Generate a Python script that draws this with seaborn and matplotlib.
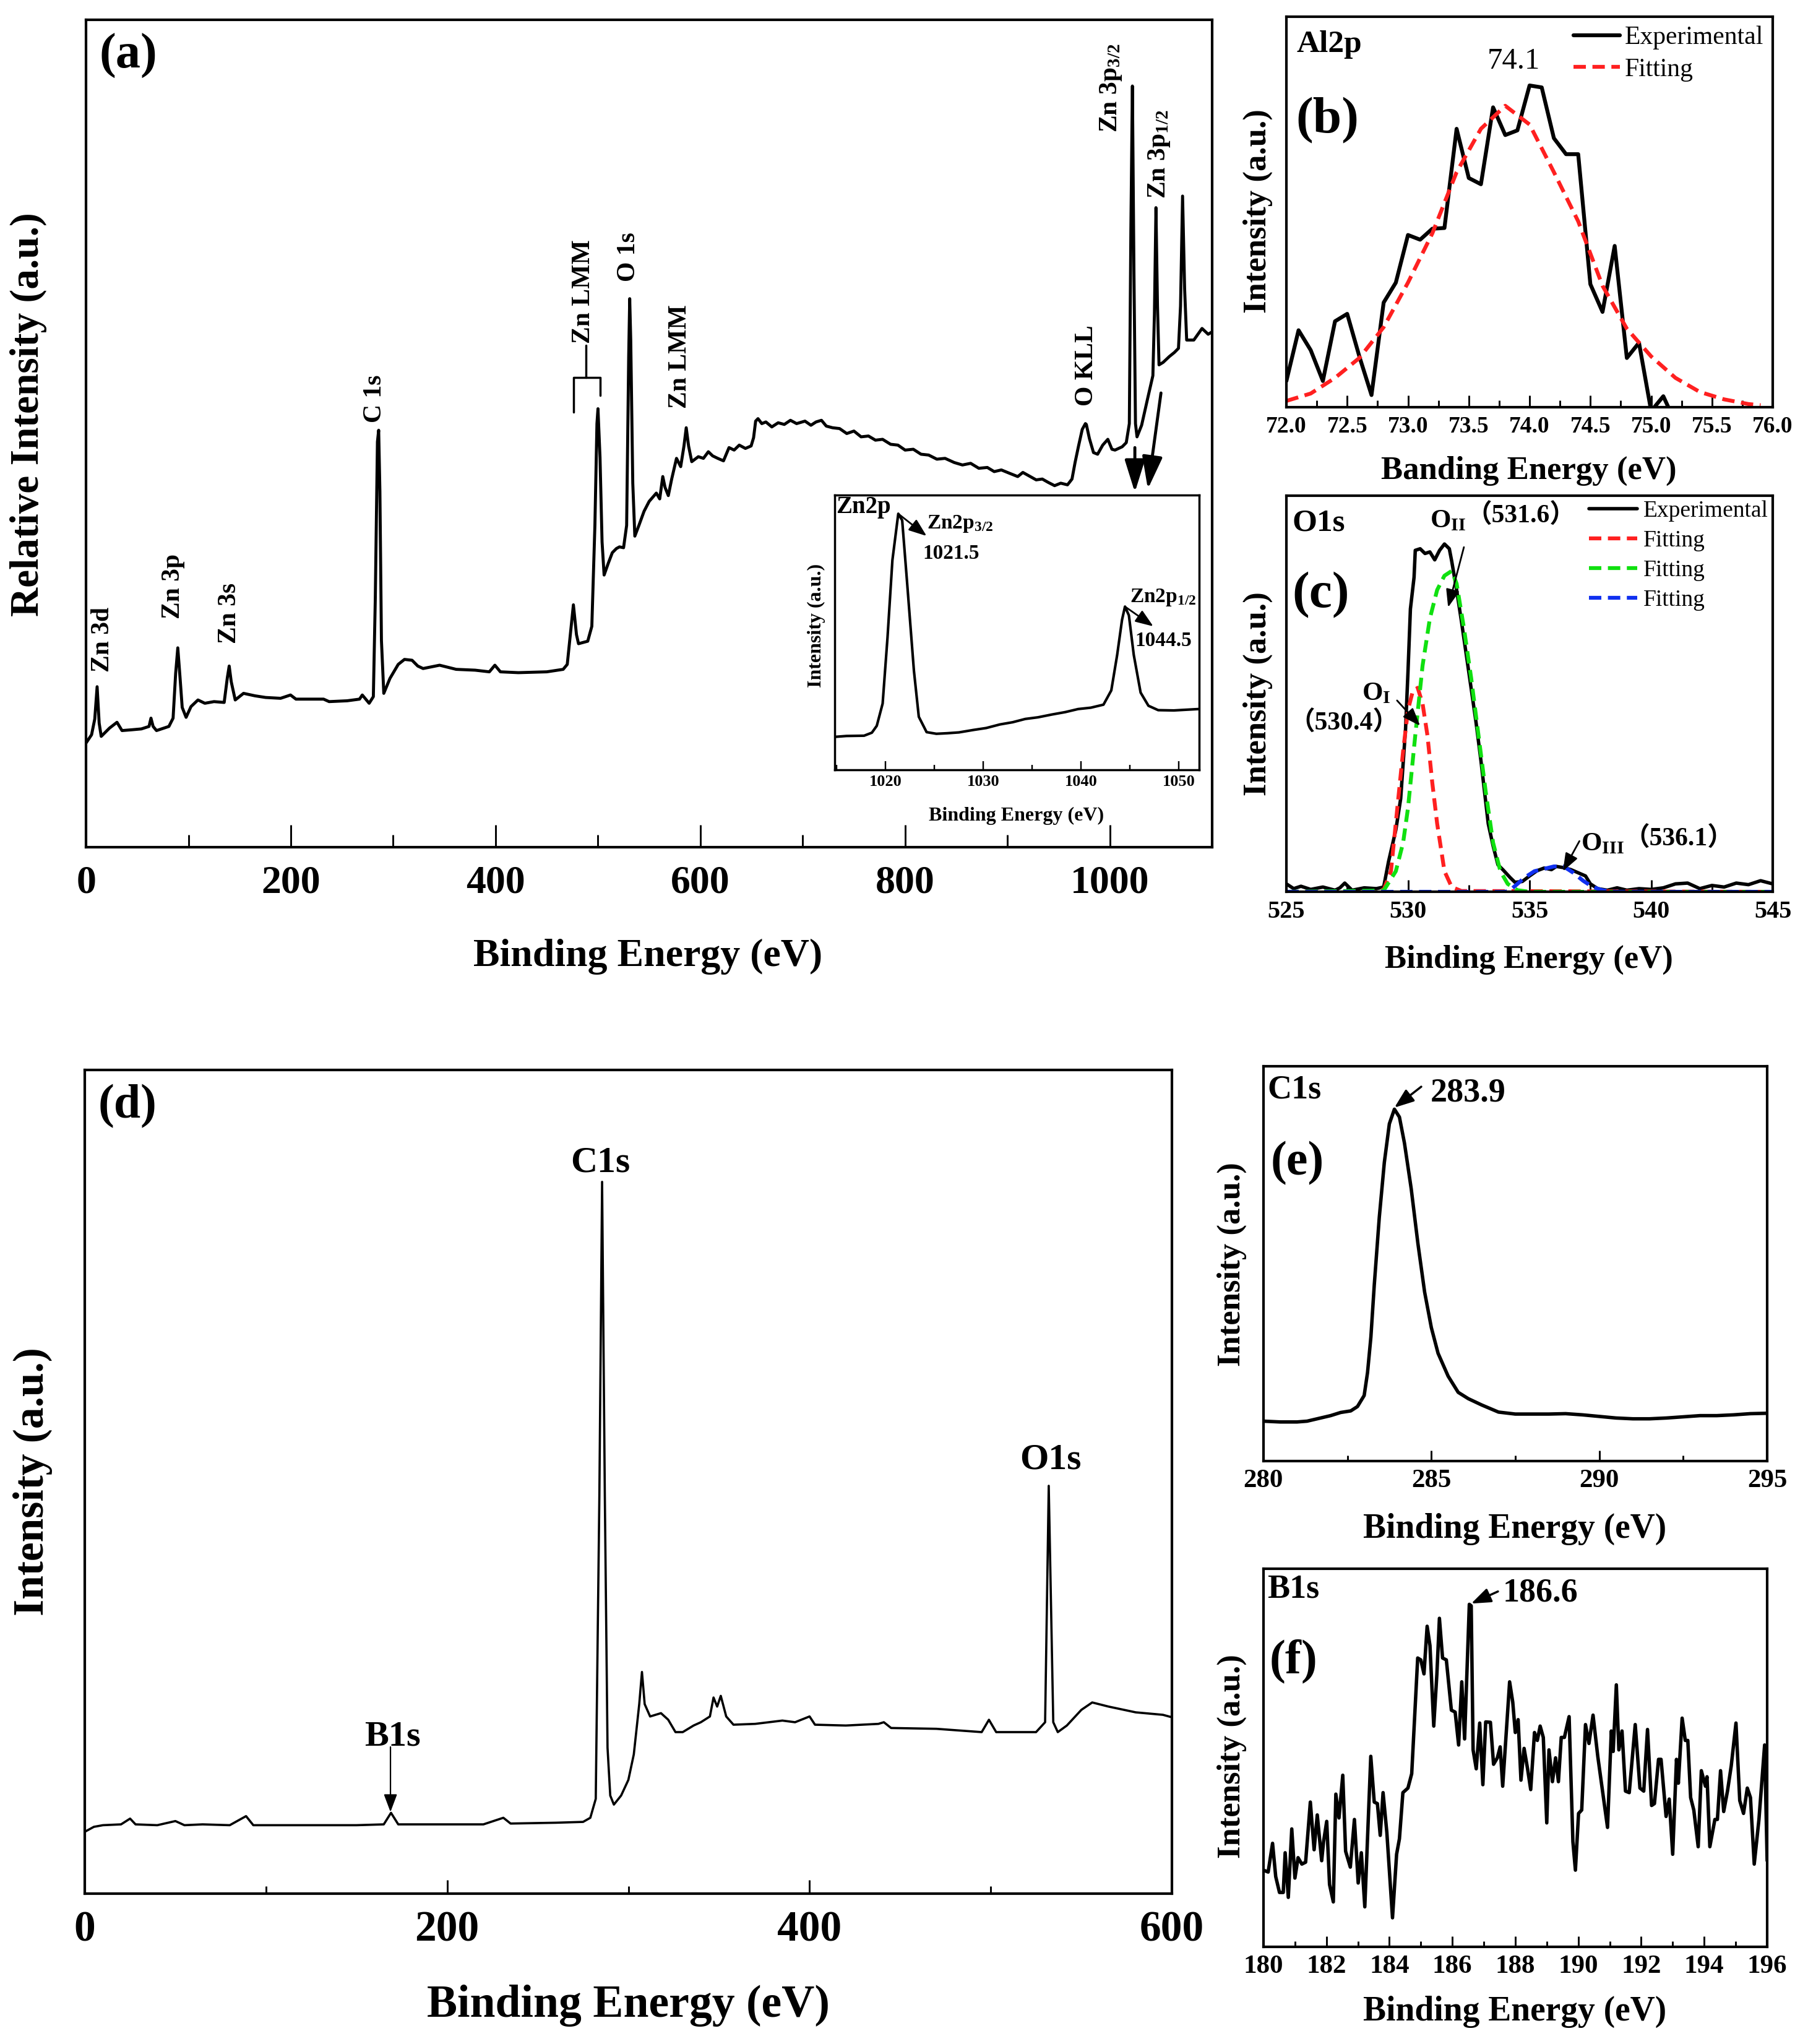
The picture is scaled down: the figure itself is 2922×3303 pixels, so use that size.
import matplotlib
matplotlib.use("Agg")
import matplotlib.pyplot as plt
from matplotlib.ticker import MultipleLocator, FormatStrFormatter
import seaborn as sns

# ---------------- data ----------------
# (a) survey spectrum, energy (eV) / relative intensity (0-100)
survey_ev = [0, 5.4, 8.5, 10.8, 12.8, 14.8, 22.9, 30.2, 35.1, 45, 54, 61.5, 63.4, 65.5, 68.8,
             80.9, 85, 87.5, 89.6, 91.8, 93.9, 97.7, 102.5, 109.3, 116, 125, 134.9, 138, 139.8,
             141.8, 145.7, 153.8, 165, 175.4, 190, 199.7, 205, 220, 232, 237.4, 255, 267.1,
             269.8, 276.5, 280.6, 282.5, 284.6, 285.8, 287, 288.5, 290.8, 296.8, 304.9, 311,
             318.4, 324, 329.2, 345.3, 361.5, 380, 393.9, 399.3, 404.7, 422.2, 450, 466, 470,
             473, 476, 479, 481, 490, 494, 497, 499, 500, 502, 504, 506, 510, 514, 518, 521, 525,
             528, 530, 531, 532, 534, 536, 540, 545, 550, 557, 560.3, 563.3, 565.5, 568.7, 572,
             576.7, 580.8, 584, 586.2, 588.5, 591.6, 598, 603, 607.8, 612, 617, 622.6, 628, 633,
             638, 644, 649.6, 652, 654, 656.3, 660, 664, 669.8, 676, 682, 688, 694, 702.2, 708,
             713, 718.3, 723, 729.1, 736, 743, 750, 757, 764.2, 771, 778, 785.8, 793, 800, 808,
             815.5, 823, 831, 839, 847.9, 856, 864, 872, 880.3, 887, 894, 901.9, 910, 915, 920.8,
             928, 934, 939.7, 946, 952, 958.6, 963, 966, 969.4, 973, 976.1, 977, 980, 984, 988,
             993, 998, 1002, 1005, 1012, 1016, 1019, 1020.5, 1022, 1023.5, 1025, 1026.5, 1031,
             1037, 1042, 1043.5, 1045, 1046.5, 1048, 1052, 1058, 1063, 1067, 1069, 1071, 1073,
             1075, 1082, 1086, 1090, 1096, 1100]
survey_int = [12.6, 13.6, 15.5, 19.4, 15.0, 13.4, 14.4, 15.1, 14.1, 14.2, 14.3, 14.6, 15.6, 14.6,
              14.1, 14.6, 15.6, 21.0, 24.1, 20.5, 16.9, 15.7, 17.0, 17.8, 17.4, 17.6, 17.5, 20.5,
              21.9, 20.0, 17.8, 18.6, 18.3, 18.1, 18.0, 18.4, 17.9, 17.9, 17.9, 17.6, 17.7, 17.9,
              18.4, 17.4, 18.2, 30.0, 49.0, 50.4, 43.0, 25.0, 18.6, 20.4, 22.1, 22.7, 22.6, 21.9,
              21.6, 22.0, 21.5, 21.4, 21.2, 22.0, 21.2, 21.1, 21.2, 21.5, 22.1, 25.7, 29.3, 25.7,
              24.6, 24.9, 26.7, 38.9, 51.2, 53.0, 47.1, 36.9, 32.9, 34.3, 35.6, 36.1, 36.3, 36.2,
              38.9, 59.3, 66.3, 61.3, 44.0, 37.6, 38.9, 40.6, 41.8, 42.8, 42.1, 44.8, 43.5, 42.5,
              44.5, 47.0, 46.0, 48.5, 50.7, 48.5, 46.6, 47.2, 47.0, 47.8, 47.3, 47.0, 46.7, 48.3,
              48.0, 48.6, 48.2, 48.5, 49.5, 51.5, 51.8, 51.2, 51.4, 50.8, 51.3, 51.1, 51.6, 51.2,
              51.5, 51.0, 51.4, 51.6, 50.9, 50.7, 50.6, 50.0, 50.3, 49.6, 49.7, 49.2, 49.3, 48.7,
              48.6, 48.0, 48.1, 47.5, 47.4, 46.9, 47.0, 46.5, 46.2, 46.4, 45.8, 45.9, 45.4, 45.6,
              45.2, 44.8, 45.3, 44.9, 44.4, 44.5, 44.1, 43.7, 44.0, 43.8, 44.5, 46.5, 48.5, 50.5,
              51.2, 51.1, 49.4, 47.7, 47.5, 48.6, 49.3, 48.1, 48.0, 48.4, 48.9, 51.2, 74.6, 92.0,
              69.5, 51.2, 49.6, 51.0, 54.3, 57.0, 64.4, 77.3, 65.4, 58.3, 58.6, 59.3, 59.8, 60.3,
              65.4, 78.7, 67.5, 61.3, 61.3, 62.0, 62.7, 62.0, 62.3]
survey_peaks = ["Zn 3d", "Zn 3p", "Zn 3s", "C 1s", "Zn LMM", "O 1s", "Zn LMM", "O KLL",
                "Zn 3p$_{3/2}$", "Zn 3p$_{1/2}$"]
survey_peak_ev = [16, 85, 140, 282, 486, 530, 580, 977, 1001, 1048]
survey_peak_int = [21.2, 27.6, 24.6, 51.3, 60.9, 68.4, 53.0, 53.3, 86.4, 78.4]

# inset: Zn 2p
zn2p_ev = [1014.9, 1016, 1017.8, 1018.6, 1019.1, 1019.7, 1020.2, 1020.7, 1021.3, 1021.7, 1022.2,
           1022.9, 1023.4, 1024.2, 1025.2, 1026.3, 1027.5, 1029, 1030.3, 1031.7, 1033, 1034.3,
           1035.6, 1037, 1038.4, 1039.7, 1041, 1042.3, 1043.1, 1043.7, 1044.2, 1044.5, 1044.9,
           1045.4, 1046.1, 1046.9, 1047.9, 1049.5, 1051, 1052]
zn2p_int = [12.0, 12.3, 12.4, 13.5, 16.0, 24.1, 48.2, 76.3, 93.2, 90.8, 68.3, 36.1, 19.3, 13.7,
            13.1, 13.3, 13.6, 14.5, 15.2, 16.5, 17.3, 18.5, 19.1, 20.1, 21.0, 22.1, 22.6, 23.7,
            28.9, 41.8, 54.6, 59.4, 56.2, 41.8, 28.1, 23.3, 21.7, 21.6, 21.9, 22.1]

# (b) Al 2p
al_ev = [72.0, 72.1, 72.2, 72.3, 72.4, 72.5, 72.6, 72.7, 72.8, 72.9, 73.0, 73.1, 73.2, 73.3,
         73.4, 73.5, 73.6, 73.7, 73.8, 73.9, 74.0, 74.1, 74.2, 74.3, 74.4, 74.5, 74.6, 74.7,
         74.8, 74.9, 75.0, 75.1, 75.2, 75.3]
al_int = [6.7, 19.7, 14.6, 6.7, 22.0, 23.9, 13.0, 3.1, 26.8, 31.9, 44.1, 42.9, 45.7, 45.9, 71.3,
          58.7, 57.1, 76.8, 69.7, 70.9, 82.4, 81.9, 68.9, 64.8, 64.8, 31.5, 24.4, 41.3, 12.6,
          16.5, -1.0, 2.8, -4.0, -6.0]
al_fit_ev = [72.0, 72.2, 72.4, 72.6, 72.8, 73.0, 73.2, 73.4, 73.6, 73.8, 74.0, 74.2, 74.4, 74.6,
             74.8, 75.0, 75.2, 75.4, 75.6, 75.8, 75.9]
al_fit_int = [1.6, 3.5, 7.5, 12.6, 20.5, 31.9, 44.5, 60.2, 71.3, 77.2, 72.4, 60.2, 47.6, 31.1,
              20.1, 13.0, 7.5, 3.9, 2.0, 0.8, 0.5]

# (c) O 1s
o1s_ev = [525.0, 525.3, 525.6, 526.0, 526.5, 527.0, 527.2, 527.4, 527.7, 528.2, 528.7, 529.0,
          529.2, 529.5, 529.7, 529.9, 530.0, 530.1, 530.25, 530.3, 530.5, 530.7, 530.9, 531.1,
          531.3, 531.5, 531.7, 531.8, 532.0, 532.2, 532.5, 532.8, 533.0, 533.3, 533.5, 533.7,
          533.9, 534.2, 534.4, 534.7, 535.0, 535.3, 535.6, 535.9, 536.1, 536.4, 536.7, 537.0,
          537.3, 537.5, 537.8, 538.2, 538.6, 539.0, 539.5, 540.0, 540.5, 541.0, 541.5, 542.0,
          542.5, 543.0, 543.5, 544.0, 544.5, 545.0]
o1s_int = [2.0, 0.8, 1.4, 0.6, 1.2, 0.4, 1.0, 2.2, 0.4, 1.0, 0.8, 1.2, 7.6, 15.6, 23.5, 41.1,
           55.5, 71.4, 79.4, 86.2, 86.6, 85.4, 85.8, 83.8, 86.2, 87.8, 86.6, 83.4, 76.2, 68.2,
           55.5, 42.7, 33.1, 17.2, 11.6, 6.8, 5.6, 3.6, 2.4, 2.6, 4.0, 5.3, 6.0, 5.6, 6.4, 6.1,
           5.6, 4.8, 4.0, 2.0, 0.8, 0.4, 1.0, 0.4, 0.8, 0.6, 1.0, 2.0, 2.2, 0.8, 1.6, 1.2, 2.2,
           1.8, 2.8, 2.0]
oI_ev = [525.0, 528.5, 529.0, 529.3, 529.6, 529.8, 530.0, 530.2, 530.4, 530.6, 530.8, 531.0,
         531.2, 531.5, 531.8, 532.2, 545.0]
oI_int = [0, 0, 0.5, 5.2, 23.5, 35.5, 45.9, 50.7, 51.5, 47.5, 39.5, 27.5, 17.2, 5.2, 1.2, 0.2, 0]
oII_ev = [525.0, 529.0, 529.5, 529.8, 530.0, 530.3, 530.6, 530.9, 531.2, 531.5, 531.8, 532.0,
          532.3, 532.6, 532.9, 533.2, 533.5, 533.8, 534.1, 534.5, 535.0, 545.0]
oII_int = [0, 0.3, 5.2, 12.4, 21.1, 39.5, 57.1, 69.0, 76.2, 79.8, 81.0, 77.8, 66.6, 53.9, 39.5,
           25.1, 12.4, 5.2, 2.0, 0.4, 0, 0]
oIII_ev = [525.0, 534.0, 534.2, 534.5, 534.8, 535.2, 535.6, 536.0, 536.4, 536.8, 537.2, 537.6,
           538.0, 538.5, 545.0]
oIII_int = [0, 0, 0.4, 2.0, 3.6, 5.2, 5.8, 6.4, 6.4, 4.8, 2.8, 1.2, 0.4, 0, 0]

# (d) survey spectrum
survey2_ev = [0, 5, 10, 20, 25, 28, 40, 50, 55, 65, 80, 89, 93, 120, 150, 165, 169, 173, 190,
              200, 220, 231, 235, 260, 275, 279, 282, 284, 285.5, 287, 288.5, 290, 292, 296, 300,
              303, 306, 307.5, 309, 312, 318, 322, 326, 330, 336, 340, 345, 347, 349, 351, 354,
              358, 370, 385, 392, 400, 403, 420, 438, 441, 445, 470, 495, 499, 503, 525, 530,
              532, 534.5, 537, 542, 550, 556, 565, 580, 595, 600]
survey2_int = [7.5, 8.1, 8.3, 8.4, 9.1, 8.4, 8.3, 8.8, 8.3, 8.4, 8.3, 9.4, 8.3, 8.3, 8.3, 8.4,
               9.8, 8.4, 8.4, 8.4, 8.4, 9.2, 8.5, 8.6, 8.7, 9.2, 11.5, 48.4, 86.4, 48.4, 17.7,
               11.9, 10.8, 11.9, 13.8, 16.9, 23.0, 26.9, 23.0, 21.5, 21.9, 21.1, 19.6, 19.6, 20.4,
               20.8, 21.5, 23.8, 22.7, 24.0, 21.5, 20.5, 20.6, 21.0, 20.8, 21.5, 20.5, 20.4, 20.6,
               20.8, 20.1, 20.0, 19.6, 21.1, 19.6, 19.6, 20.8, 49.5, 20.8, 19.6, 20.4, 22.3, 23.2,
               22.7, 22.0, 21.7, 21.4]

# (e) C 1s
c1s_ev = [280.0, 280.5, 281.0, 281.3, 281.6, 282.0, 282.3, 282.6, 282.8, 283.0, 283.1, 283.2,
          283.3, 283.45, 283.6, 283.75, 283.9, 284.05, 284.2, 284.4, 284.6, 284.8, 285.0, 285.2,
          285.5, 285.8, 286.1, 286.5, 287.0, 287.5, 288.0, 288.5, 289.0, 289.5, 290.0, 290.5,
          291.0, 291.5, 292.0, 292.5, 293.0, 293.5, 294.0, 294.5, 295.0]
c1s_int = [10.1, 9.9, 9.9, 10.1, 10.7, 11.5, 12.3, 12.7, 13.8, 16.6, 22.4, 31.4, 44.5, 61.7, 75.6,
           85.4, 89.1, 87.1, 80.5, 69.0, 55.1, 42.8, 33.8, 27.3, 21.5, 17.4, 15.8, 14.2, 12.4,
           11.9, 11.9, 11.9, 12.0, 11.7, 11.3, 10.9, 10.7, 10.7, 10.9, 11.2, 11.5, 11.5, 11.7,
           12.0, 12.1]

# (f) B 1s
b1s_ev = [180.0, 180.15, 180.29, 180.39, 180.51, 180.63, 180.69, 180.79, 180.9, 181.0, 181.1,
          181.22, 181.34, 181.49, 181.61, 181.71, 181.85, 181.91, 182.01, 182.1, 182.22, 182.3,
          182.4, 182.52, 182.61, 182.76, 182.89, 183.01, 183.11, 183.22, 183.41, 183.52, 183.62,
          183.71, 183.8, 183.92, 184.1, 184.23, 184.32, 184.43, 184.59, 184.71, 184.77, 184.9,
          185.0, 185.1, 185.2, 185.29, 185.41, 185.51, 185.59, 185.69, 185.81, 185.97, 186.09,
          186.2, 186.3, 186.39, 186.54, 186.6, 186.66, 186.76, 186.87, 186.97, 187.06, 187.21,
          187.31, 187.43, 187.52, 187.6, 187.82, 187.92, 188.0, 188.09, 188.18, 188.28, 188.39,
          188.49, 188.61, 188.7, 188.79, 188.89, 189.0, 189.07, 189.18, 189.28, 189.37, 189.46,
          189.56, 189.71, 189.83, 189.91, 190.01, 190.11, 190.23, 190.34, 190.47, 190.62,
          190.93, 191.05, 191.11, 191.21, 191.29, 191.39, 191.5, 191.62, 191.81, 191.96,
          192.08, 192.2, 192.33, 192.42, 192.55, 192.63, 192.79, 192.89, 193.0, 193.12,
          193.18, 193.3, 193.4, 193.48, 193.57, 193.67, 193.81, 193.91, 194.04, 194.09,
          194.18, 194.34, 194.42, 194.52, 194.62, 194.74, 194.86, 195.01, 195.13, 195.25,
          195.37, 195.47, 195.59, 195.74, 195.92, 196.0]
b1s_int = [20.3, 19.8, 27.4, 18.6, 14.4, 14.4, 24.9, 13.1, 31.2, 18.2, 23.6, 21.9, 22.4, 38.3,
           25.7, 34.9, 22.8, 27.8, 33.2, 16.5, 11.9, 40.4, 34.1, 45.4, 25.3, 21.1, 33.7, 16.9,
           24.9, 10.6, 50.4, 38.3, 37.9, 29.5, 40.8, 30.3, 7.7, 24.5, 28.6, 40.8, 42.0, 45.8,
           55.4, 76.4, 75.9, 72.2, 84.8, 79.7, 58.4, 72.2, 86.9, 76.4, 75.9, 62.6, 62.1, 53.4,
           70.1, 55.0, 90.6, 90.2, 52.1, 47.1, 59.2, 42.9, 59.5, 59.4, 48.3, 50.0, 52.9, 42.5,
           70.1, 64.7, 56.7, 60.1, 44.1, 52.5, 47.1, 41.6, 56.7, 54.6, 58.4, 55.4, 32.8, 52.1,
           43.7, 50.0, 43.7, 55.4, 55.4, 60.9, 27.8, 20.3, 35.3, 36.2, 58.8, 53.8, 61.3, 50.4,
           31.6, 57.1, 51.7, 69.3, 52.1, 57.1, 41.2, 40.8, 58.8, 42.0, 41.2, 57.5, 37.4, 37.9,
           49.6, 49.6, 34.5, 39.1, 24.5, 49.6, 43.3, 60.5, 54.6, 54.6, 39.5, 36.2, 26.5, 46.6,
           42.5, 45.0, 26.5, 33.7, 33.7, 46.6, 35.8, 41.2, 47.9, 59.2, 38.7, 35.3, 42.0, 39.5,
           21.9, 33.7, 53.4, 22.8]

# ---------------- style ----------------
sns.set_theme(style="ticks")
plt.rcParams["font.family"] = ["Liberation Serif", "Noto Sans CJK SC"]
plt.rcParams["font.weight"] = "bold"
plt.rcParams["axes.labelweight"] = "bold"
plt.rcParams["mathtext.default"] = "regular"
plt.rcParams["text.color"] = "black"
plt.rcParams["axes.labelcolor"] = "black"
plt.rcParams["xtick.color"] = "black"

CJK = ["Liberation Serif", "Noto Sans CJK SC"]


def frame(ax, xlim, major, minor, tsize, tlen, pad, fmt=None, lw=3):
    ax.set_xlim(*xlim)
    ax.set_ylim(0, 100)
    ax.set_yticks([])
    ax.xaxis.set_major_locator(MultipleLocator(major))
    ax.xaxis.set_minor_locator(MultipleLocator(minor))
    if fmt:
        ax.xaxis.set_major_formatter(FormatStrFormatter(fmt))
    ax.tick_params(axis="x", which="major", direction="in", length=tlen, width=lw * 0.7,
                   labelsize=tsize, pad=pad, top=False)
    ax.tick_params(axis="x", which="minor", direction="in", length=tlen * 0.55,
                   width=lw * 0.7, top=False)
    for s in ax.spines.values():
        s.set_visible(True)
        s.set_linewidth(lw)
        s.set_color("black")


def labels(ax, xl, yl, xsize, ysize, xpos, ypos):
    ax.set_xlabel(xl, fontsize=xsize, fontweight="bold")
    ax.set_ylabel(yl, fontsize=ysize, fontweight="bold")
    ax.xaxis.set_label_coords(*xpos)
    ax.yaxis.set_label_coords(*ypos)
    ax.xaxis.label.set_va("center")
    ax.yaxis.label.set_va("center")


def line(ax, x, y, color="black", lw=3.5, ls="-"):
    sns.lineplot(x=x, y=y, ax=ax, color=color, linewidth=lw, estimator=None, sort=False)
    ln = ax.lines[-1]
    ln.set_linestyle(ls)
    return ln


def arrow(ax, xy, xytext, lw=2, ms=22):
    ax.annotate("", xy=xy, xytext=xytext,
                arrowprops=dict(arrowstyle="-|>,head_length=0.8,head_width=0.3", color="black",
                                lw=lw, mutation_scale=ms, shrinkA=0, shrinkB=0))


fig = plt.figure(figsize=(29.22, 33.03), dpi=100)
fig.patch.set_facecolor("white")
dash = (0, (3.2, 1.7))

# ---------------- (a) ----------------
ax_a = fig.add_axes([0.0476, 0.5855, 0.6229, 0.4048])
line(ax_a, survey_ev, survey_int, lw=3.5)
frame(ax_a, (0, 1100), 200, 100, 46, 26, 21)
labels(ax_a, "Binding Energy (eV)", "Relative Intensity (a.u.)", 46, 47,
       (0.499, -0.132), (-0.051, 0.523))
ax_a.text(0.0115, 0.956, "(a)", transform=ax_a.transAxes, fontsize=58, fontweight="bold",
          ha="left", va="center")
for name, ex, iy in zip(survey_peaks, survey_peak_ev, survey_peak_int):
    ax_a.text(ex, iy, name, rotation=90, ha="center", va="bottom", fontsize=30,
              fontweight="bold")
# bracket under the first Zn LMM label
ax_a.plot([476, 476, 502, 502], [52.6, 56.8, 56.8, 54.6], color="black", lw=2.5)
ax_a.plot([488.4, 488.4], [56.8, 60.7], color="black", lw=2.5)
# arrows towards the inset
big = dict(arrowstyle="-|>,head_length=0.8,head_width=0.25", color="black", lw=3.5,
           mutation_scale=40, shrinkA=0, shrinkB=0)
ax_a.annotate("", xy=(1024.4, 42.9), xytext=(1024.4, 48.3), arrowprops=big)
ax_a.annotate("", xy=(1037.1, 43.3), xytext=(1049.9, 54.9), arrowprops=big)

# inset Zn 2p
ax_in = fig.add_axes([0.4617, 0.6234, 0.2016, 0.1344], facecolor="white")
ax_in.set_zorder(5)
line(ax_in, zn2p_ev, zn2p_int, lw=3)
frame(ax_in, (1014.8, 1052.1), 10, 5, 19, 10, 6, lw=2.5)
labels(ax_in, "Binding Energy (eV)", "Intensity (a.u.)", 23, 23, (0.499, -0.169), (-0.051, 0.525))
ax_in.text(1014.95, 95.5, "Zn2p", fontsize=28, fontweight="bold", ha="left", va="center")
ax_in.text(1024.2, 89.6, "Zn2p$_{3/2}$", fontsize=24, fontweight="bold", ha="left", va="center")
ax_in.text(1023.8, 78.7, "1021.5", fontsize=24, fontweight="bold", ha="left", va="center")
ax_in.text(1045.0, 62.7, "Zn2p$_{1/2}$", fontsize=24, fontweight="bold", ha="left", va="center")
ax_in.text(1045.5, 47.0, "1044.5", fontsize=24, fontweight="bold", ha="left", va="center")
arrow(ax_in, (1024.2, 85.1), (1021.3, 93.2))
arrow(ax_in, (1047.4, 52.2), (1044.5, 59.4))

# ---------------- (b) ----------------
ax_b = fig.add_axes([0.7115, 0.8008, 0.2690, 0.1910])
h_exp = line(ax_b, al_ev, al_int, lw=4.5)
h_fit = line(ax_b, al_fit_ev, al_fit_int, color="#ff2020", lw=4.5, ls=dash)
frame(ax_b, (72, 76), 0.5, 0.25, 27, 14, 10, fmt="%.1f")
labels(ax_b, "Banding Energy (eV)", "Intensity (a.u.)", 38, 38, (0.499, -0.163), (-0.0585, 0.502))
ax_b.text(0.019, 0.734, "(b)", transform=ax_b.transAxes, fontsize=60, fontweight="bold",
          ha="left", va="center")
ax_b.text(0.0204, 0.929, "Al2p", transform=ax_b.transAxes, fontsize=37, fontweight="bold",
          ha="left", va="center")
ax_b.text(73.87, 88.6, "74.1", fontsize=35, fontweight="normal", ha="center", va="center")
ax_b.legend([h_exp, h_fit], ["Experimental", "Fitting"], loc="upper right", frameon=False,
            prop={"size": 30, "weight": "normal"}, handlelength=1.8, handletextpad=0.2,
            labelspacing=0.32, borderpad=0.25, borderaxespad=0.1)

# ---------------- (c) ----------------
ax_c = fig.add_axes([0.7115, 0.5637, 0.2690, 0.1938])
h1 = line(ax_c, o1s_ev, o1s_int, lw=4)
h2 = line(ax_c, oI_ev, oI_int, color="#ff2020", lw=4.5, ls=dash)
h3 = line(ax_c, oII_ev, oII_int, color="#10e010", lw=4.5, ls=dash)
h4 = line(ax_c, oIII_ev, oIII_int, color="#1030f0", lw=4.5, ls=dash)
frame(ax_c, (525, 545), 5, 2.5, 29, 14, 10)
labels(ax_c, "Binding Energy (eV)", "Intensity (a.u.)", 38, 38, (0.499, -0.172), (-0.0585, 0.5))
ax_c.text(0.0115, 0.748, "(c)", transform=ax_c.transAxes, fontsize=60, fontweight="bold",
          ha="left", va="center")
ax_c.text(0.0115, 0.93, "O1s", transform=ax_c.transAxes, fontsize=37, fontweight="bold",
          ha="left", va="center")
ax_c.legend([h1, h2, h3, h4], ["Experimental", "Fitting", "Fitting", "Fitting"],
            loc="upper right", frameon=False, prop={"size": 27, "weight": "normal"},
            handlelength=2.1, handletextpad=0.25, labelspacing=0.36, borderpad=0.1,
            borderaxespad=0.1)
t = ax_c.text(530.9, 93.5, "O$_{II}$", fontsize=31, fontweight="bold", ha="left", va="center")
ax_c.annotate("（531.6）", xy=(1, 0.2), xycoords=t, fontsize=30, fontweight="bold",
              family=CJK, ha="left", va="bottom")
arrow(ax_c, (531.65, 71.8), (532.3, 87.0))
ax_c.text(528.1, 50.0, "O$_{I}$", fontsize=31, fontweight="bold", ha="left", va="center")
ax_c.text(525.1, 42.5, "（530.4）", fontsize=30, fontweight="bold", family=CJK, ha="left",
          va="center")
arrow(ax_c, (530.5, 41.9), (529.55, 48.3))
t = ax_c.text(537.1, 12.0, "O$_{III}$", fontsize=31, fontweight="bold", ha="left", va="center")
ax_c.annotate("（536.1）", xy=(1, 0.2), xycoords=t, fontsize=30, fontweight="bold",
              family=CJK, ha="left", va="bottom")
arrow(ax_c, (536.37, 5.2), (537.05, 12.8))

# ---------------- (d) ----------------
ax_d = fig.add_axes([0.0469, 0.0736, 0.6013, 0.4030])
line(ax_d, survey2_ev, survey2_int, lw=2.6)
frame(ax_d, (0, 600), 200, 100, 50, 16, 20)
labels(ax_d, "Binding Energy (eV)", "Intensity (a.u.)", 53, 50, (0.4997, -0.136), (-0.0478, 0.5))
ax_d.text(0.0125, 0.956, "(d)", transform=ax_d.transAxes, fontsize=56, fontweight="bold",
          ha="left", va="center")
ax_d.text(284.7, 88.7, "C1s", fontsize=43, fontweight="bold", ha="center", va="center")
ax_d.text(533, 52.6, "O1s", fontsize=43, fontweight="bold", ha="center", va="center")
ax_d.text(170, 19.0, "B1s", fontsize=42, fontweight="bold", ha="center", va="center")
ax_d.annotate("", xy=(168.7, 9.9), xytext=(168.7, 17.8),
              arrowprops=dict(arrowstyle="-|>,head_length=0.8,head_width=0.3", color="black",
                              lw=1.6, mutation_scale=22, shrinkA=0, shrinkB=0))

# ---------------- (e) ----------------
ax_e = fig.add_axes([0.6988, 0.2852, 0.2786, 0.1932])
line(ax_e, c1s_ev, c1s_int, lw=4)
frame(ax_e, (280, 295), 5, 2.5, 31, 12, 9.5)
labels(ax_e, "Binding Energy (eV)", "Intensity (a.u.)", 40, 38, (0.499, -0.172), (-0.0627, 0.498))
ax_e.text(0.015, 0.754, "(e)", transform=ax_e.transAxes, fontsize=56, fontweight="bold",
          ha="left", va="center")
ax_e.text(0.0075, 0.939, "C1s", transform=ax_e.transAxes, fontsize=39, fontweight="bold",
          ha="left", va="center")
ax_e.text(284.97, 93.2, "283.9", fontsize=39, fontweight="bold", ha="left", va="center")
arrow(ax_e, (283.9, 89.5), (284.7, 94.8), lw=2.5, ms=24)

# ---------------- (f) ----------------
ax_f = fig.add_axes([0.6988, 0.0475, 0.2786, 0.1850])
line(ax_f, b1s_ev, b1s_int, lw=4)
frame(ax_f, (180, 196), 2, 1, 31, 12, 9.5)
labels(ax_f, "Binding Energy (eV)", "Intensity (a.u.)", 40, 38, (0.499, -0.172), (-0.0627, 0.504))
ax_f.text(0.012, 0.756, "(f)", transform=ax_f.transAxes, fontsize=56, fontweight="bold",
          ha="left", va="center")
ax_f.text(0.0075, 0.946, "B1s", transform=ax_f.transAxes, fontsize=39, fontweight="bold",
          ha="left", va="center")
ax_f.text(187.61, 93.5, "186.6", fontsize=39, fontweight="bold", ha="left", va="center")
arrow(ax_f, (186.6, 90.8), (187.45, 94.0), lw=2.5, ms=24)

for ax in [ax_a, ax_in, ax_d, ax_e, ax_f]:
    if ax.get_legend() is not None:
        ax.get_legend().remove()

fig.savefig("out.png", dpi=100, facecolor="white")
